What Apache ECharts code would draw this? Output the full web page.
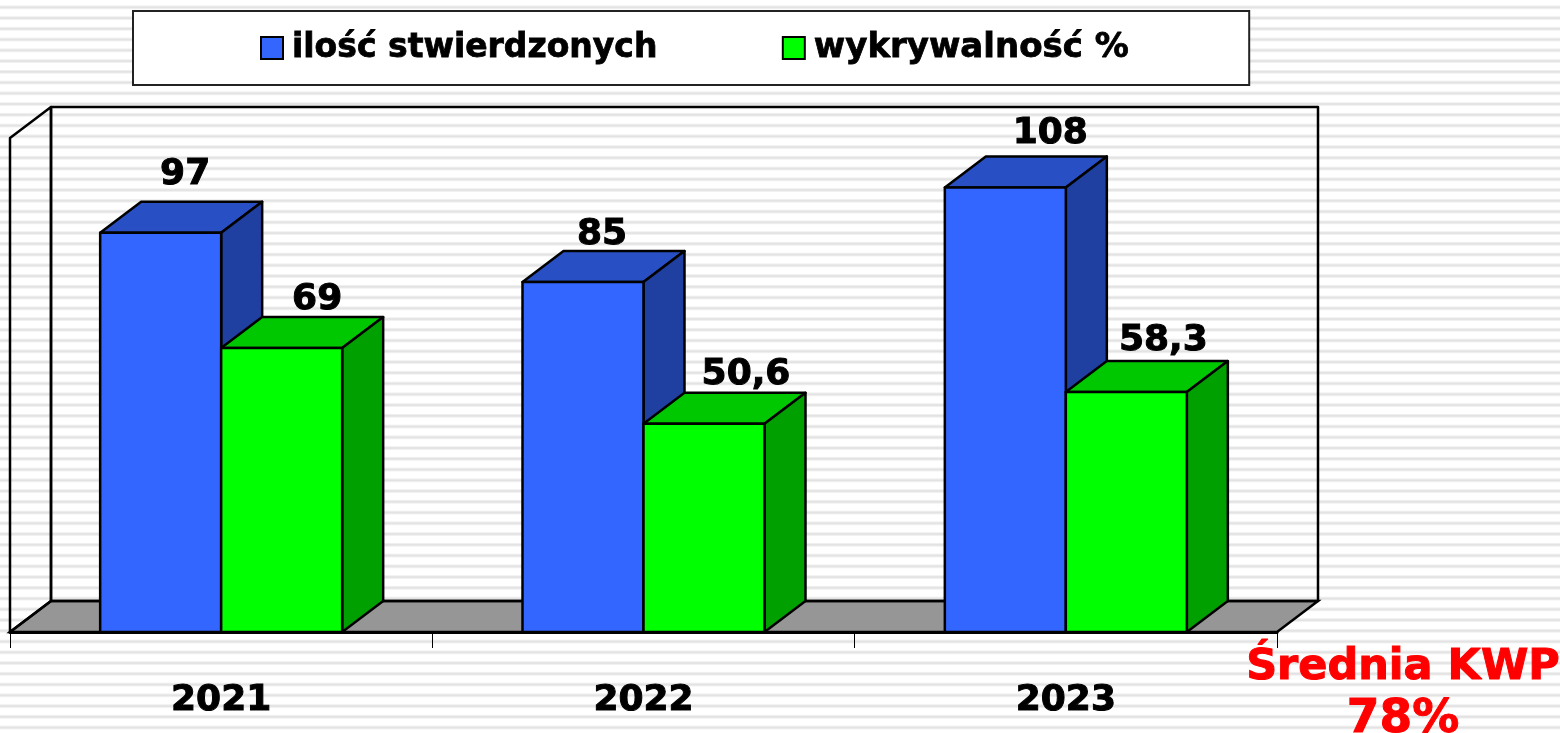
<!DOCTYPE html>
<html><head><meta charset="utf-8">
<style>html,body{margin:0;padding:0;background:#fff}#c{width:1560px;height:733px}</style>
<script src="https://cdn.jsdelivr.net/npm/echarts@6/dist/echarts.min.js"></script>
</head><body><div id="c"></div>
<script>
const categories = ['2021', '2022', '2023'];
const detected = [97, 85, 108];
const detectionRate = [69, 50.6, 58.3];
const seriesNames = ['ilość stwierdzonych', 'wykrywalność %'];
const noteLines = ['Średnia KWP', '78%'];

// styling
const FONT = '"DejaVu Sans"';
const DX = 41, DY = -31, BAR_W = 121;
const blueNudge = [[24.5, -58], [19, -47], [45, -54]];
const greenNudge = [[35.5, -48], [42, -49], [37, -51]];
const blueFaces = {front: '#3366ff', top: '#2850c4', side: '#1f40a0'};
const greenFaces = {front: '#00ff00', top: '#00c800', side: '#00a000'};

// striped slide background
const tile = document.createElement('canvas');
tile.width = 8; tile.height = 43;
const g = tile.getContext('2d');
g.fillStyle = '#ffffff'; g.fillRect(0, 0, 8, 43);
for (let i = 0; i < 4; i++) {
  g.fillStyle = '#f1f1f1'; g.fillRect(0, 5.4 + i * 10.75, 8, 3.8);
  g.fillStyle = '#e3e3e3'; g.fillRect(0, 6.4 + i * 10.75, 8, 1.8);
}

function barItem(values, faces, side, nudge) {
  return function (params, api) {
    const i = api.value(0), v = api.value(1);
    const base = api.coord([i, 0]), top = api.coord([i, v]);
    const x0 = base[0] + (side < 0 ? -BAR_W : 0), x1 = x0 + BAR_W;
    const y0 = top[1], y1 = base[1];
    const line = {stroke: '#000', lineWidth: 2.5, lineJoin: 'round'};
    const n = nudge[params.dataIndex];
    return {type: 'group', children: [
      {type: 'polygon', shape: {points: [[x0, y0], [x1, y0], [x1 + DX, y0 + DY], [x0 + DX, y0 + DY]]}, style: Object.assign({fill: faces.top}, line)},
      {type: 'polygon', shape: {points: [[x1, y0], [x1 + DX, y0 + DY], [x1 + DX, y1 + DY], [x1, y1]]}, style: Object.assign({fill: faces.side}, line)},
      {type: 'rect', shape: {x: x0, y: y0, width: BAR_W, height: y1 - y0}, style: Object.assign({fill: faces.front}, line)},
      {type: 'text', z2: 50, style: {text: String(v).replace('.', ','), x: (x0 + x1) / 2 + n[0], y: y0 + n[1],
        align: 'center', verticalAlign: 'middle', fill: '#000', stroke: '#000', lineWidth: 1, font: 'bold 36px ' + FONT}}
    ]};
  };
}

function frameItem(params) {
  const c = params.coordSys, l = c.x, r = c.x + c.width, t = c.y, b = c.y + c.height;
  const line = {stroke: '#000', lineWidth: 2.5, fill: 'none', lineJoin: 'round'};
  return {type: 'group', children: [
    {type: 'polygon', shape: {points: [[l, b], [l + DX, b + DY], [r + DX, b + DY], [r, b]]}, style: {fill: '#969696', stroke: '#000', lineWidth: 2.5}},
    {type: 'polygon', shape: {points: [[l, b], [l, t], [l + DX, t + DY], [l + DX, b + DY]]}, style: line},
    {type: 'polygon', shape: {points: [[l + DX, b + DY], [l + DX, t + DY], [r + DX, t + DY], [r + DX, b + DY]]}, style: line}
  ]};
}

const chart = echarts.init(document.getElementById('c'), null, {renderer: 'canvas'});
chart.setOption({
  animation: false,
  backgroundColor: {image: tile, repeat: 'repeat'},
  grid: {left: 10, right: 283, top: 138, bottom: 101},
  title: {text: '{a|' + noteLines[0] + '}\n{b|' + noteLines[1] + '}', left: 1398, top: 638, textAlign: 'center',
    textStyle: {rich: {
      a: {color: '#ff0000', fontFamily: FONT, fontWeight: 'bold', fontSize: 43, lineHeight: 50, textBorderColor: '#ff0000', textBorderWidth: 1},
      b: {color: '#ff0000', fontFamily: FONT, fontWeight: 'bold', fontSize: 47, lineHeight: 54, textBorderColor: '#ff0000', textBorderWidth: 1}
    }}},
  legend: {
    left: 133, top: 11, padding: [16, 120, 16, 127], itemGap: 124, itemWidth: 22, itemHeight: 22,
    backgroundColor: '#fff', borderColor: '#222', borderWidth: 2, borderRadius: 0,
    icon: 'rect', selectedMode: false,
    textStyle: {color: '#000', fontFamily: FONT, fontWeight: 'bold', fontSize: 33, padding: [2, 0, 0, 4], lineHeight: 40,
      textBorderColor: '#000', textBorderWidth: 0.8},
    data: [{name: seriesNames[0]}, {name: seriesNames[1], textStyle: {fontSize: 34}}]
  },
  xAxis: {type: 'category', data: categories,
    axisLine: {show: true, lineStyle: {color: '#000', width: 3}},
    axisTick: {show: true, length: 16, lineStyle: {color: '#000', width: 1}},
    axisLabel: {color: '#000', fontFamily: FONT, fontWeight: 'bold', fontSize: 36, margin: 51, textBorderColor: '#000', textBorderWidth: 1},
    splitLine: {show: false}},
  yAxis: {type: 'value', min: 0, max: 120, interval: 20, show: false, splitLine: {show: false}},
  series: [
    {type: 'custom', name: 'frame', silent: true, z: 1, renderItem: frameItem, data: [[0, 0]], clip: false},
    {type: 'custom', name: seriesNames[0], z: 2, renderItem: barItem(detected, blueFaces, -1, blueNudge),
      itemStyle: {color: blueFaces.front, borderColor: '#000', borderWidth: 2},
      data: detected.map((v, i) => [i, v]), encode: {x: 0, y: 1}},
    {type: 'custom', name: seriesNames[1], z: 3, renderItem: barItem(detectionRate, greenFaces, 1, greenNudge),
      itemStyle: {color: greenFaces.front, borderColor: '#000', borderWidth: 2},
      data: detectionRate.map((v, i) => [i, v]), encode: {x: 0, y: 1}}
  ]
});
</script></body></html>
